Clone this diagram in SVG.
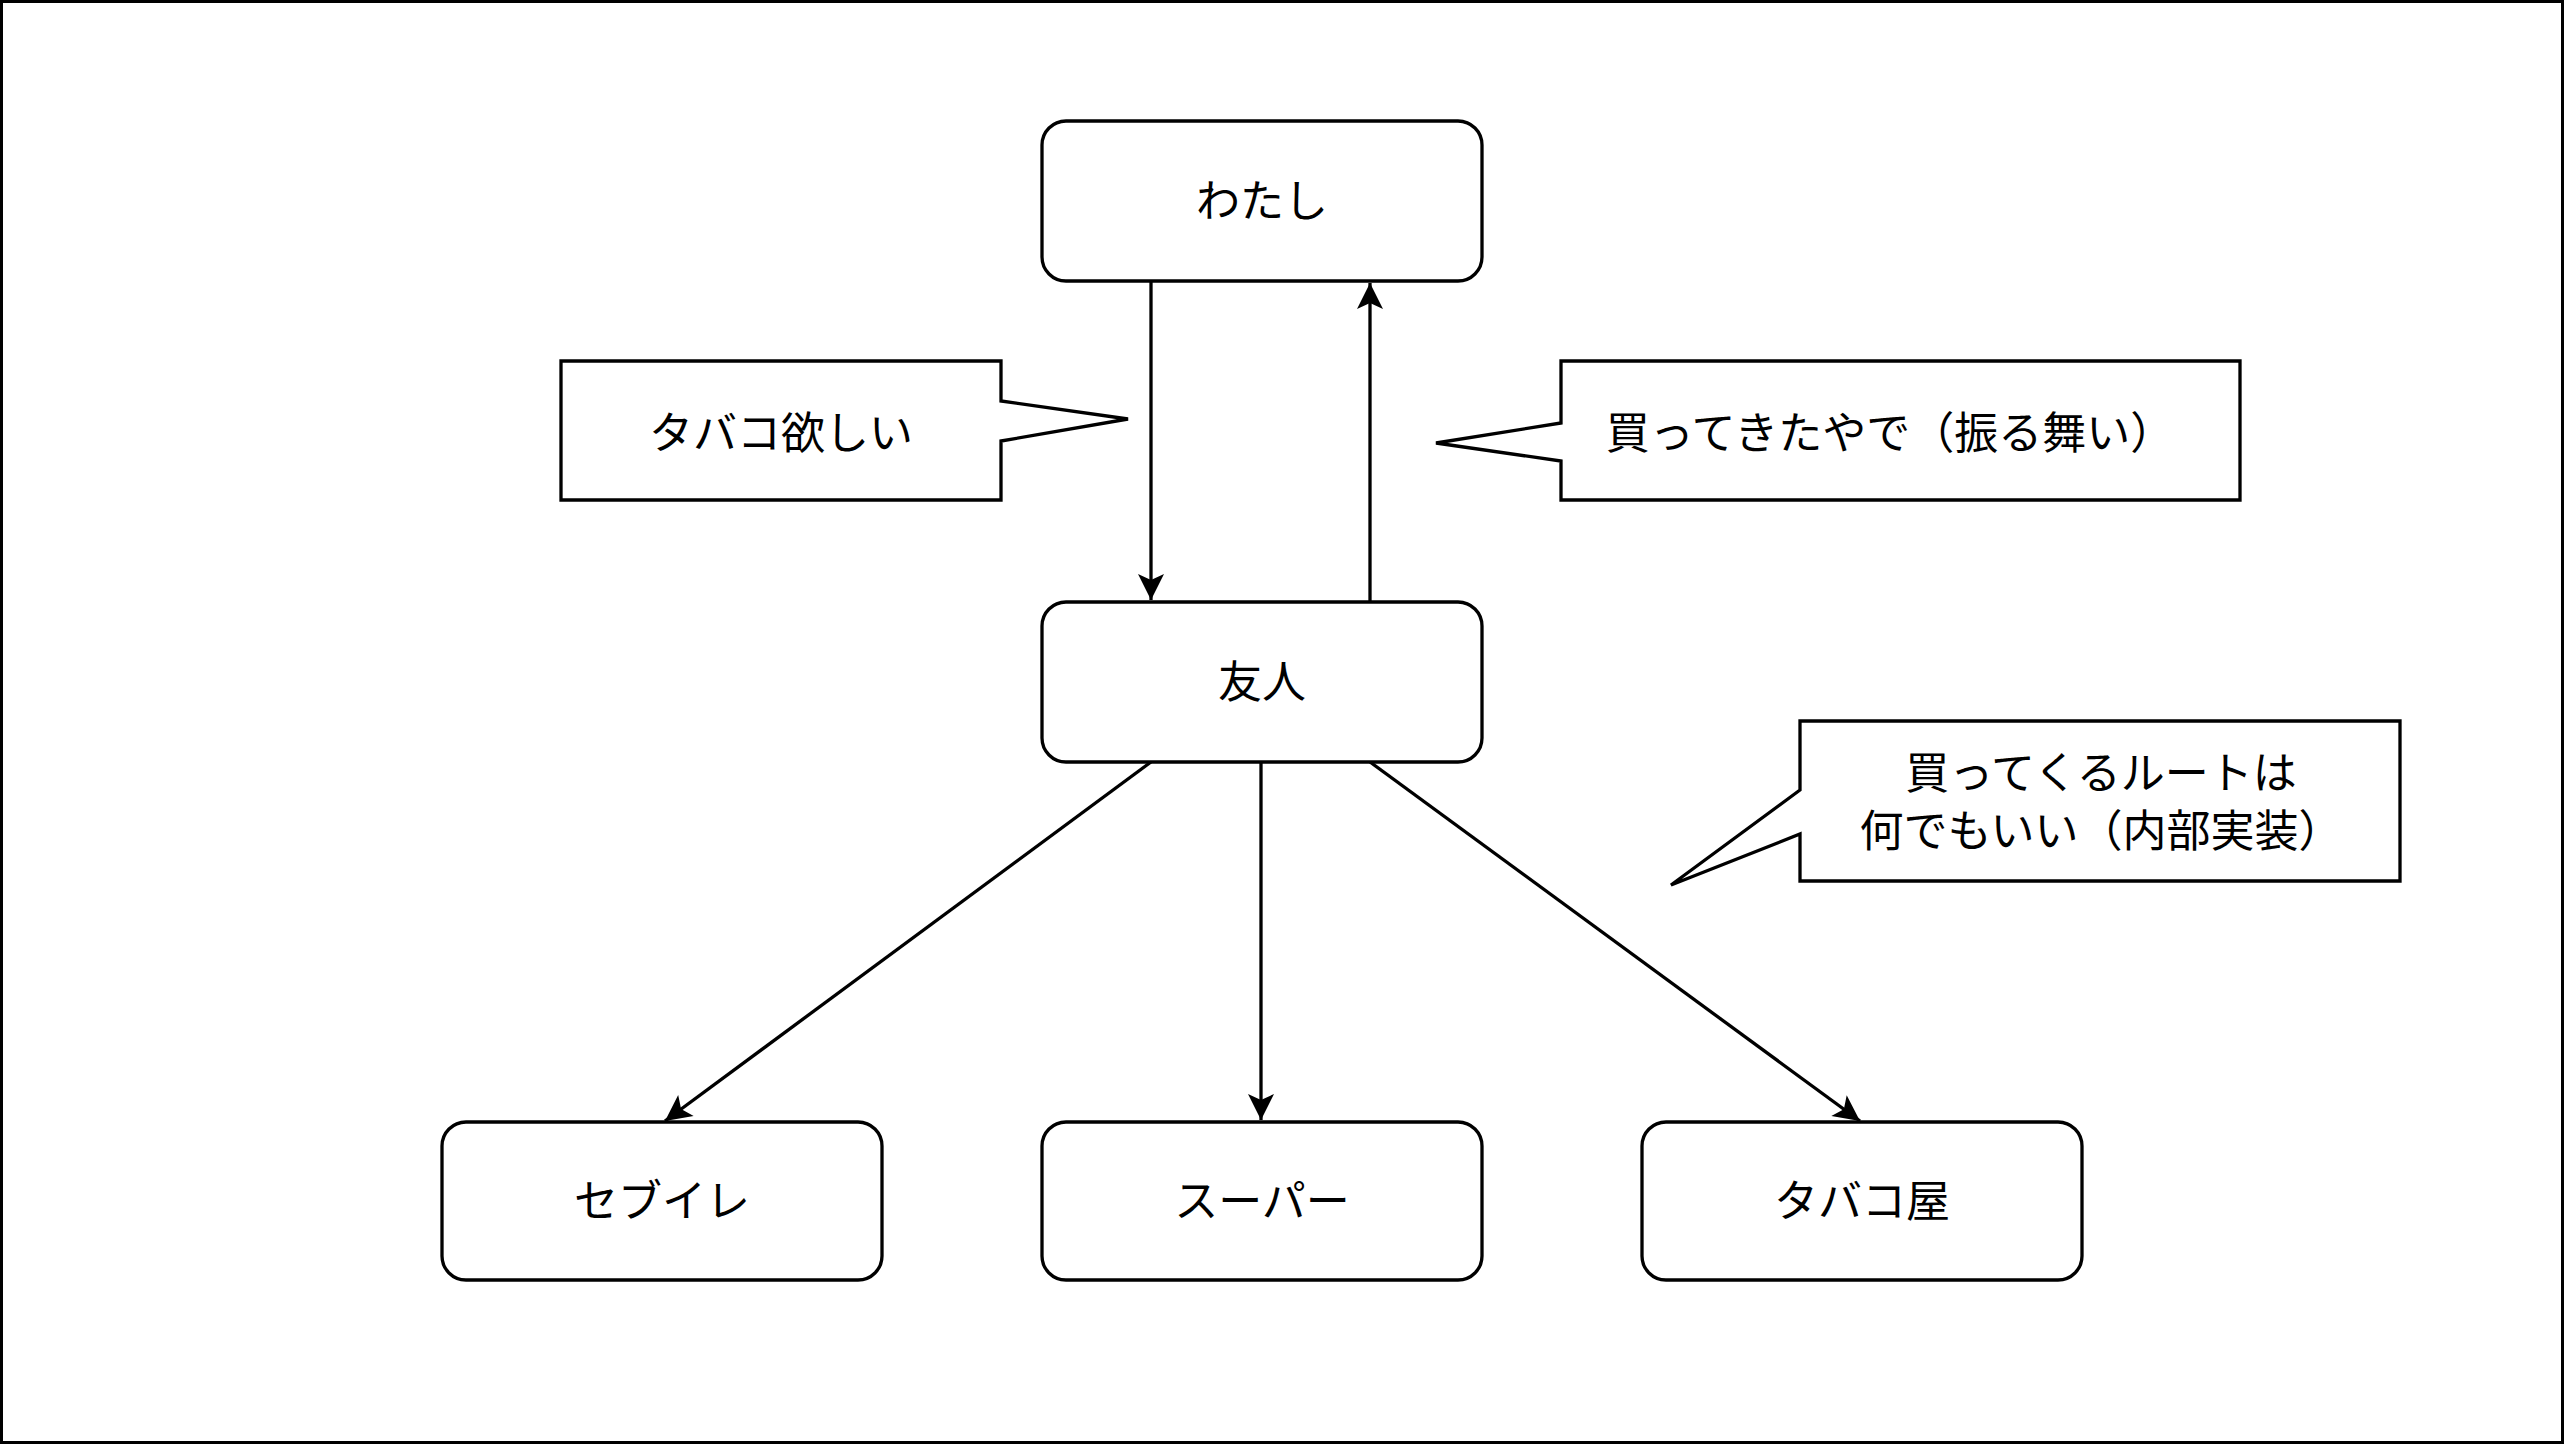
<svg xmlns="http://www.w3.org/2000/svg" width="2564" height="1444" viewBox="0 0 2564 1444">
<style>
.n{fill:#fff;stroke:#000;stroke-width:3.3}
.t{font-family:"Noto Sans CJK JP",sans-serif;font-size:44px;fill:#000;text-anchor:middle;dominant-baseline:central}
.e{fill:none;stroke:#000;stroke-width:3.3}
</style>
<defs>
<marker id="a" viewBox="0 0 30 30" refX="28" refY="15" markerWidth="30" markerHeight="30" markerUnits="userSpaceOnUse" orient="auto">
<path d="M28,15 L2,2 L8,15 L2,28 Z" fill="#000"/>
</marker>
</defs>
<rect x="1.5" y="1.5" width="2561" height="1441" fill="#fff" stroke="#000" stroke-width="3"/>
<g id="connectors">
<path class="e" d="M1151,281 L1151,600" marker-end="url(#a)"/>
<path class="e" d="M1370,602 L1370,283" marker-end="url(#a)"/>
<path class="e" d="M1151,762 L665,1121" marker-end="url(#a)"/>
<path class="e" d="M1261,762 L1261,1120" marker-end="url(#a)"/>
<path class="e" d="M1370,762 L1860,1121" marker-end="url(#a)"/>
</g>
<g id="watashi"><rect class="n" x="1042" y="121" width="440" height="160" rx="24"/><text class="t" x="1262" y="198">わたし</text></g>
<g id="yujin"><rect class="n" x="1042" y="602" width="440" height="160" rx="24"/><text class="t" x="1262" y="679">友人</text></g>
<g id="sebuire"><rect class="n" x="442" y="1122" width="440" height="158" rx="24"/><text class="t" x="662" y="1198">セブイレ</text></g>
<g id="super"><rect class="n" x="1042" y="1122" width="440" height="158" rx="24"/><text class="t" x="1262" y="1198">スーパー</text></g>
<g id="tabakoya"><rect class="n" x="1642" y="1122" width="440" height="158" rx="24"/><text class="t" x="1862" y="1198">タバコ屋</text></g>
<g id="callout1"><path class="n" d="M561,361 L1001,361 L1001,401 L1128,419 L1001,441 L1001,500 L561,500 Z"/><text class="t" x="781" y="430">タバコ欲しい</text></g>
<g id="callout2"><path class="n" d="M1561,361 L2240,361 L2240,500 L1561,500 L1561,461 L1436,443 L1561,423 Z"/><text class="t" x="1890" y="430">買ってきたやで（振る舞い）</text></g>
<g id="callout3"><path class="n" d="M1800,721 L2400,721 L2400,881 L1800,881 L1800,834 L1671,885 L1800,790 Z"/><text class="t" x="2101" y="770">買ってくるルートは</text><text class="t" x="2101" y="828">何でもいい（内部実装）</text></g>
</svg>
